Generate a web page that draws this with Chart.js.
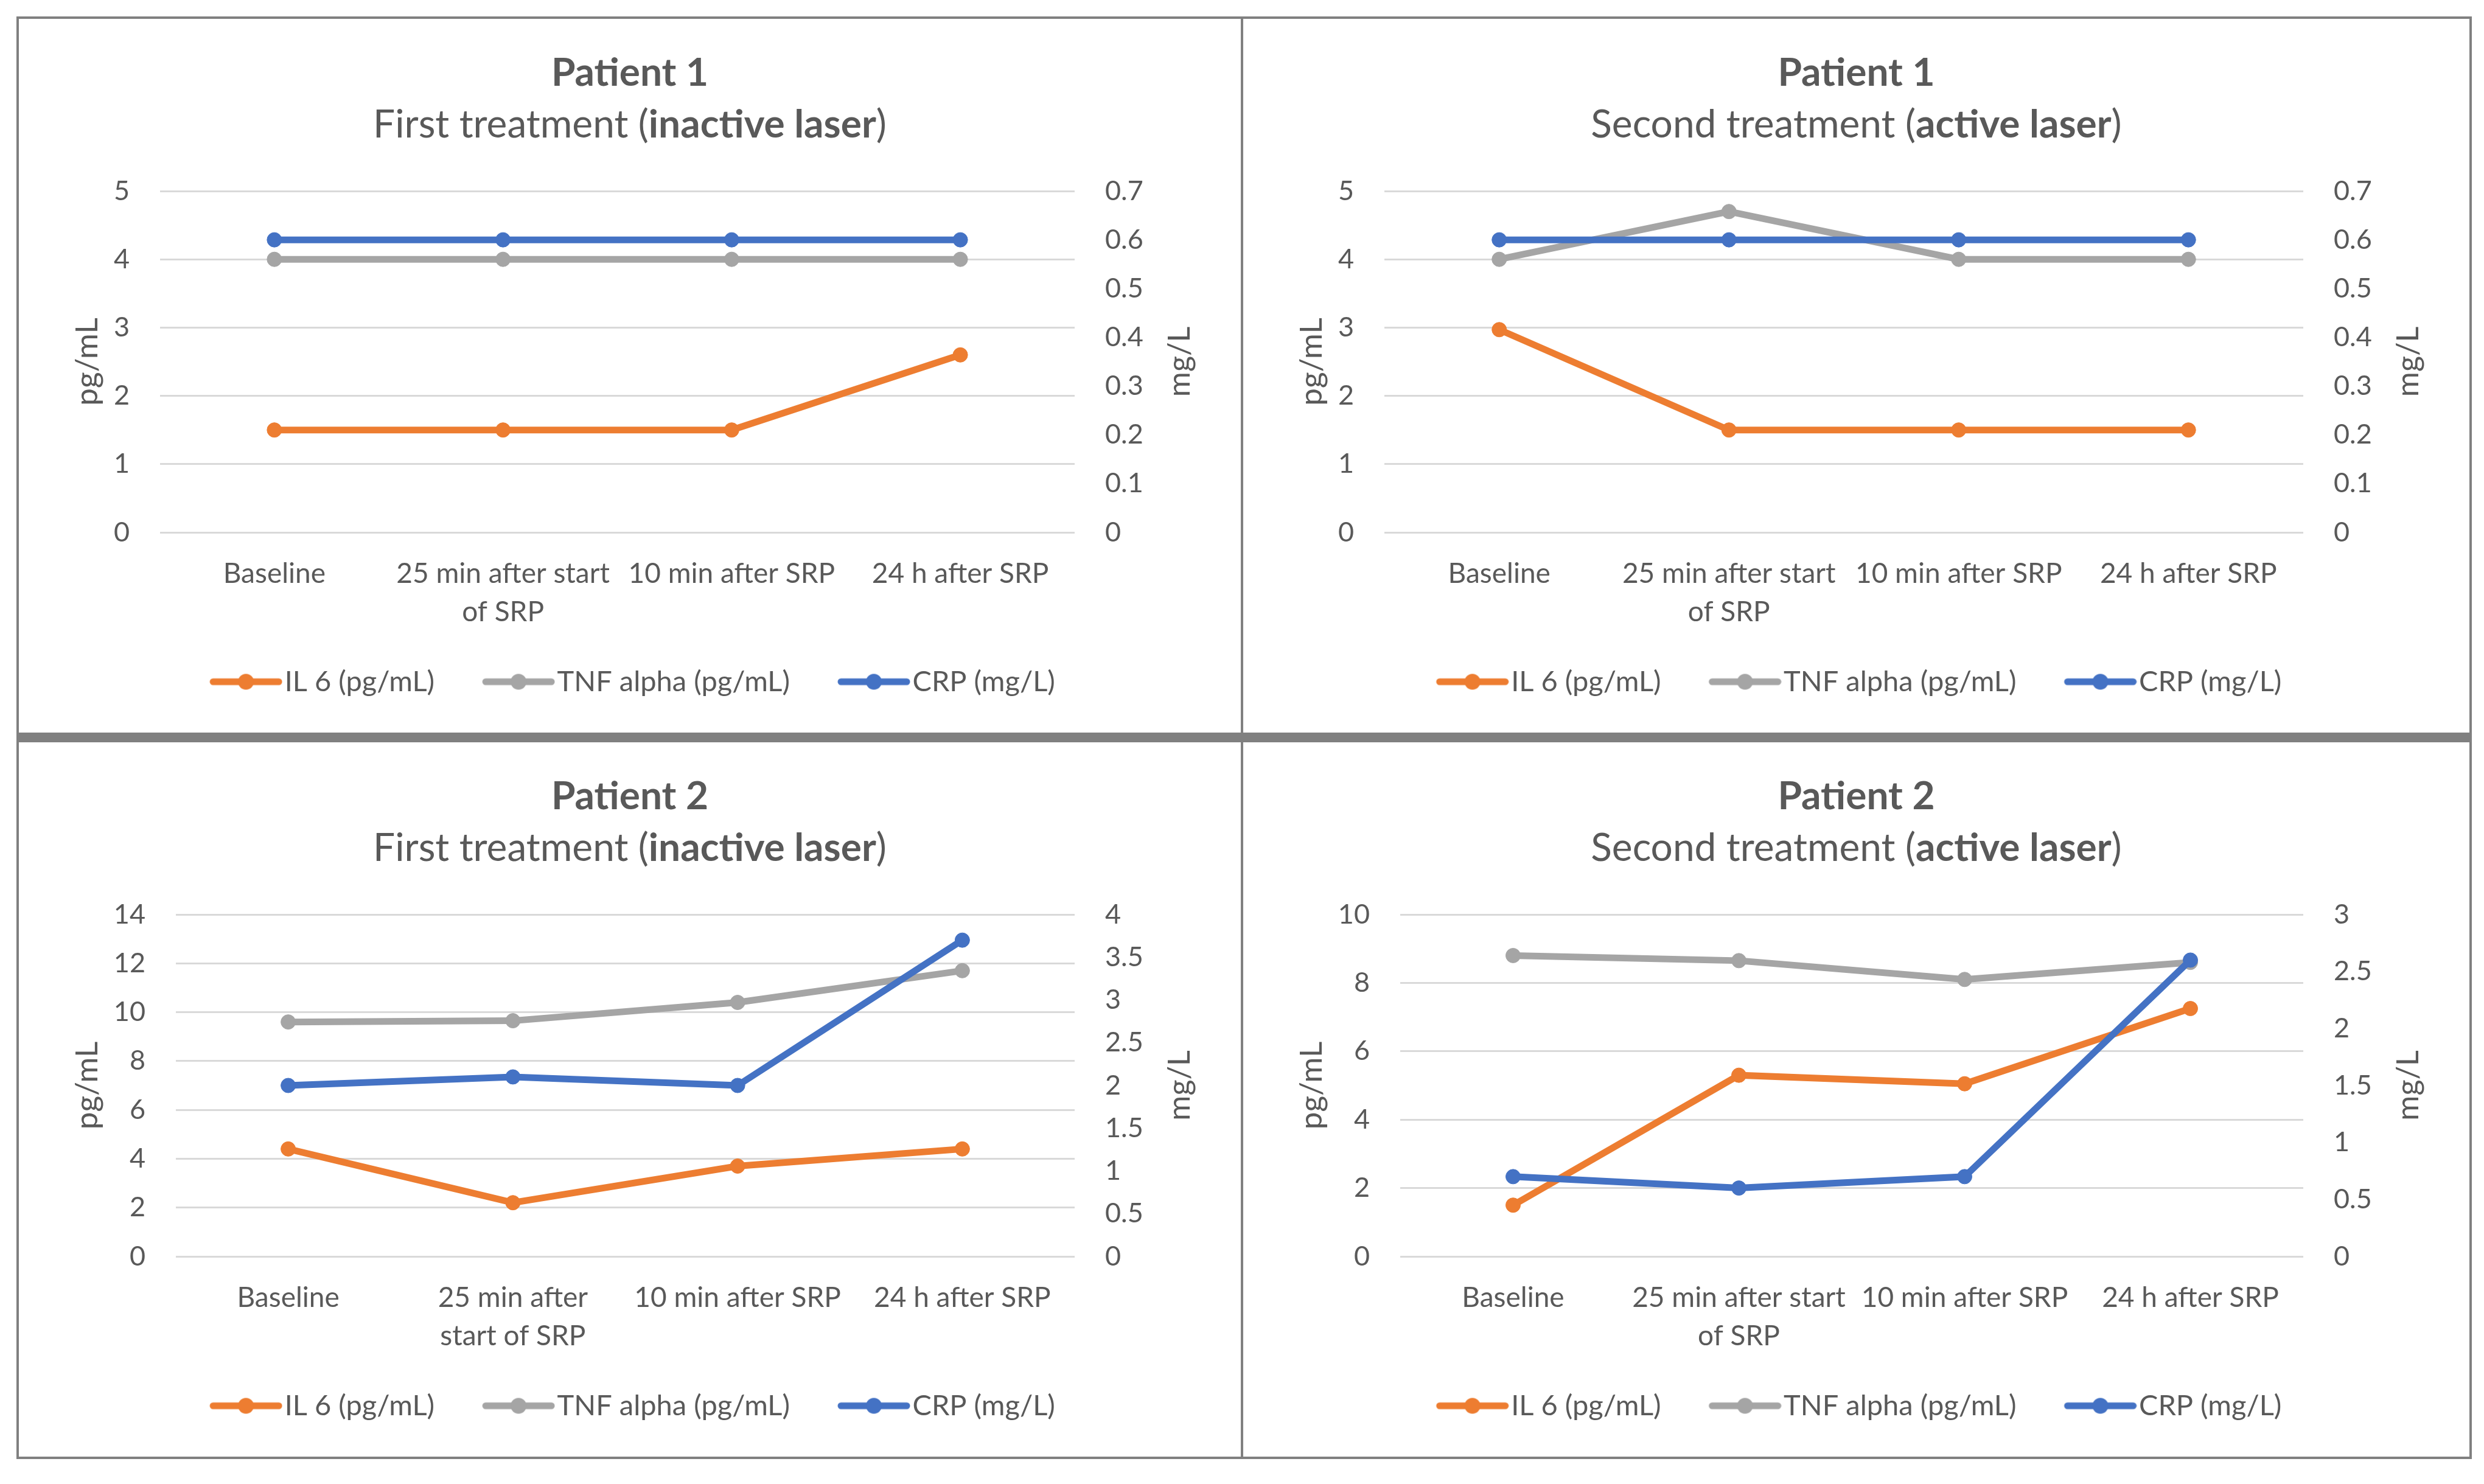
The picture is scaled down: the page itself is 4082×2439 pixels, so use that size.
<!DOCTYPE html>
<html>
<head>
<meta charset="utf-8">
<script src="https://cdn.jsdelivr.net/npm/chart.js@4.4.1/dist/chart.umd.min.js"></script>
<style>
  body { margin: 0; background: #fff; width: 4082px; height: 2439px; position: relative; overflow: hidden; font-family: Lato, sans-serif; }
  .frame { position: absolute; left: 27px; top: 27px; width: 4035px; height: 2371px; border: 4px solid #808080; box-sizing: border-box; }
  .hdiv { position: absolute; left: 27px; top: 1204px; width: 4035px; height: 16px; background: #808080; }
  .vdiv { position: absolute; left: 2039px; top: 27px; width: 4px; height: 2371px; background: #808080; }
  .panel { position: absolute; }
  .panel canvas { position: absolute; left: 0; top: 0; }
  .t1, .t2 { position: absolute; left: 0; width: 100%; text-align: center; color: #595959; height: 80px; line-height: 80px; white-space: nowrap; }
  .t1 { top: 46px; font-size: 64px; font-weight: bold; }
  .t2 { top: 131px; font-size: 64px; }
</style>
</head>
<body>
<div class="frame"></div>
<div class="hdiv"></div>
<div class="vdiv"></div>

<div class="panel" id="p0" style="left:31px;top:31px;width:2008px;height:1173px">
  <canvas id="c0" width="2008" height="1173"></canvas>
  <div class="t1">Patient 1</div>
  <div class="t2">First treatment (<b>inactive laser</b>)</div>
</div>
<div class="panel" id="p1" style="left:2043px;top:31px;width:2015px;height:1173px">
  <canvas id="c1" width="2015" height="1173"></canvas>
  <div class="t1">Patient 1</div>
  <div class="t2">Second treatment (<b>active laser</b>)</div>
</div>
<div class="panel" id="p2" style="left:31px;top:1220px;width:2008px;height:1174px">
  <canvas id="c2" width="2008" height="1174"></canvas>
  <div class="t1">Patient 2</div>
  <div class="t2">First treatment (<b>inactive laser</b>)</div>
</div>
<div class="panel" id="p3" style="left:2043px;top:1220px;width:2015px;height:1174px">
  <canvas id="c3" width="2015" height="1174"></canvas>
  <div class="t1">Patient 2</div>
  <div class="t2">Second treatment (<b>active laser</b>)</div>
</div>

<script>
// categories (the 25 min label wraps differently in the bottom-left chart)
const categoriesA = ["Baseline", ["25 min after start", "of SRP"], "10 min after SRP", "24 h after SRP"];
const categoriesB = ["Baseline", ["25 min after", "start of SRP"], "10 min after SRP", "24 h after SRP"];

const seriesNames = ["IL 6 (pg/mL)", "TNF alpha (pg/mL)", "CRP (mg/L)"];
const seriesColors = ["#ED7D31", "#A5A5A5", "#4472C4"];

// Patient 1, first treatment (inactive laser)
const p1FirstIL6 = [1.5, 1.5, 1.5, 2.6];
const p1FirstTNF = [4, 4, 4, 4];
const p1FirstCRP = [0.6, 0.6, 0.6, 0.6];

// Patient 1, second treatment (active laser)
const p1SecondIL6 = [2.97, 1.5, 1.5, 1.5];
const p1SecondTNF = [4, 4.7, 4, 4];
const p1SecondCRP = [0.6, 0.6, 0.6, 0.6];

// Patient 2, first treatment (inactive laser)
const p2FirstIL6 = [4.4, 2.2, 3.7, 4.4];
const p2FirstTNF = [9.6, 9.65, 10.4, 11.7];
const p2FirstCRP = [2.0, 2.1, 2.0, 3.7];

// Patient 2, second treatment (active laser)
const p2SecondIL6 = [1.5, 5.3, 5.05, 7.25];
const p2SecondTNF = [8.8, 8.65, 8.1, 8.6];
const p2SecondCRP = [0.7, 0.6, 0.7, 2.6];

// axis ranges: left pg/mL, right mg/L
const leftMax = [5, 5, 14, 10];
const leftStep = [1, 1, 2, 2];
const rightMax = [0.7, 0.7, 4, 3];
const rightStep = [0.1, 0.1, 0.5, 0.5];

const panels = [
    { labels: categoriesA, il6: p1FirstIL6, tnf: p1FirstTNF, crp: p1FirstCRP, leftW: 232 },
    { labels: categoriesA, il6: p1SecondIL6, tnf: p1SecondTNF, crp: p1SecondCRP, leftW: 232 },
    { labels: categoriesB, il6: p2FirstIL6, tnf: p2FirstTNF, crp: p2FirstCRP, leftW: 258 },
    { labels: categoriesA, il6: p2SecondIL6, tnf: p2SecondTNF, crp: p2SecondCRP, leftW: 258 }
];

Chart.defaults.font.family = "Lato";
Chart.defaults.color = "#595959";

// legend icon: short line with a dot in the middle, like the Excel legend.
// the icon sits at the right of a wider transparent image so it hugs its text
function legendIcon(color) {
    let c = document.createElement("canvas");
    c.width = 148;
    c.height = 30;
    let g = c.getContext("2d");
    g.strokeStyle = color;
    g.fillStyle = color;
    g.lineWidth = 11;
    g.lineCap = "round";
    g.beginPath();
    g.moveTo(34, 15);
    g.lineTo(142, 15);
    g.stroke();
    g.beginPath();
    g.arc(88, 15, 13, 0, Math.PI * 2);
    g.fill();
    return c;
}
const legendIcons = seriesColors.map(legendIcon);

function fmt(v) {
    return String(Math.round(v * 100) / 100);
}

// right axis title reads bottom-to-top, so it is drawn here
const rightTitle = {
    id: "rightTitle",
    afterDraw(chart) {
        let s = chart.scales.y1;
        let ctx = chart.ctx;
        ctx.save();
        ctx.translate(s.right - 100, (s.top + s.bottom) / 2);
        ctx.rotate(-Math.PI / 2);
        ctx.font = "50px Lato";
        ctx.fillStyle = "#595959";
        ctx.textAlign = "center";
        ctx.textBaseline = "middle";
        ctx.fillText("mg/L", 0, 0);
        ctx.restore();
    }
};

function makeDataset(i, values, axis, order) {
    return {
        label: seriesNames[i],
        data: values,
        yAxisID: axis,
        borderColor: seriesColors[i],
        backgroundColor: seriesColors[i],
        pointBackgroundColor: seriesColors[i],
        pointBorderColor: seriesColors[i],
        borderWidth: 11,
        pointRadius: 12,
        pointBorderWidth: 1,
        tension: 0,
        order: order,
        clip: false
    };
}

panels.forEach(function(p, k) {
    let ctx = document.getElementById("c" + k).getContext("2d");
    new Chart(ctx, {
        type: "line",
        data: {
            labels: p.labels,
            datasets: [
                makeDataset(0, p.il6, "y", 2),
                makeDataset(1, p.tnf, "y", 1),
                makeDataset(2, p.crp, "y1", 0)
            ]
        },
        options: {
            responsive: false,
            animation: false,
            devicePixelRatio: 1,
            layout: { padding: { top: 283, left: 0, right: 0, bottom: 50 } },
            plugins: {
                title: { display: false },
                tooltip: { enabled: false },
                legend: {
                    position: "bottom",
                    labels: {
                        usePointStyle: true,
                        pointStyleWidth: 108,
                        padding: 70,
                        color: "#595959",
                        font: { size: 47 },
                        sort: (a, b) => a.datasetIndex - b.datasetIndex,
                        generateLabels: function(chart) {
                            let items = Chart.defaults.plugins.legend.labels.generateLabels(chart);
                            items.forEach(it => { it.pointStyle = legendIcons[it.datasetIndex]; });
                            return items;
                        }
                    }
                }
            },
            scales: {
                x: {
                    offset: true,
                    grid: { display: false },
                    border: { display: false },
                    ticks: {
                        autoSkip: false,
                        maxRotation: 0,
                        padding: 29,
                        color: "#595959",
                        font: { size: 46, lineHeight: 1.37 }
                    },
                    afterFit: s => { s.height = 152; }
                },
                y: {
                    position: "left",
                    min: 0,
                    max: leftMax[k],
                    grid: { color: "#D9D9D9", lineWidth: 3, drawTicks: false },
                    border: { display: false },
                    ticks: {
                        stepSize: leftStep[k],
                        padding: 50,
                        color: "#595959",
                        font: { size: 45 },
                        callback: fmt
                    },
                    title: {
                        display: true,
                        text: "pg/mL",
                        color: "#595959",
                        font: { size: 51, lineHeight: 1.2 },
                        padding: { top: 82, bottom: 0 }
                    },
                    afterFit: s => { s.width = p.leftW; }
                },
                y1: {
                    position: "right",
                    min: 0,
                    max: rightMax[k],
                    grid: { display: false, drawTicks: false },
                    border: { display: false },
                    ticks: {
                        stepSize: rightStep[k],
                        padding: 50,
                        color: "#595959",
                        font: { size: 45 },
                        callback: fmt
                    },
                    afterFit: s => { s.width = 273; }
                }
            }
        },
        plugins: [rightTitle]
    });
});
</script>
</body>
</html>
